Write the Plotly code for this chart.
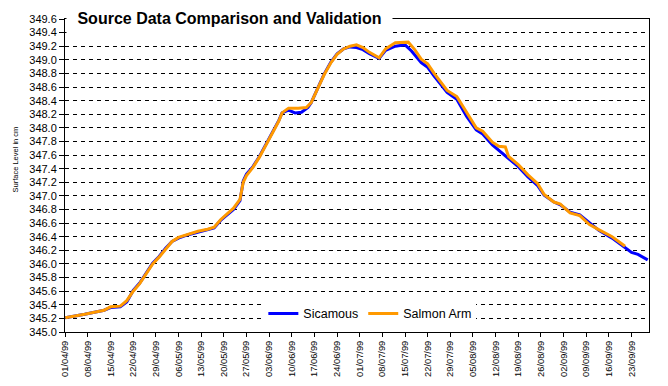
import pandas as pd
import plotly.graph_objects as go

start_date = "1999-04-01"

sicamous_days = [0, 3, 6, 9, 12, 14, 17, 19, 21, 23, 25, 27, 29, 31, 33, 35, 38, 41, 44, 46,
                 48, 50, 52, 54, 55, 56, 58, 60, 62, 64, 66, 67, 69, 71, 73, 75, 76, 78, 80, 82,
                 84, 86, 88, 90, 92, 94, 97, 99, 102, 105, 107, 110, 112, 114, 116, 118, 121, 124, 127, 129,
                 132, 134, 137, 140, 143, 146, 148, 151, 153, 156, 159, 162, 165, 169, 173, 175, 177, 180]
sicamous_vals = [345.21, 345.23, 345.26, 345.29, 345.32, 345.36, 345.37, 345.44, 345.61, 345.72,
                 345.87, 346.01, 346.11, 346.23, 346.33, 346.38, 346.43, 346.47, 346.50, 346.53,
                 346.64, 346.72, 346.80, 346.93, 347.22, 347.32, 347.43, 347.58, 347.75, 347.93,
                 348.11, 348.22, 348.26, 348.22, 348.23, 348.30, 348.37, 348.58, 348.79, 348.96,
                 349.09, 349.16, 349.19, 349.18, 349.15, 349.09, 349.02, 349.14, 349.20, 349.22,
                 349.13, 348.96, 348.89, 348.76, 348.64, 348.52, 348.42, 348.17, 347.97, 347.91,
                 347.75, 347.67, 347.56, 347.43, 347.28, 347.15, 347.01, 346.91, 346.87, 346.76,
                 346.72, 346.60, 346.49, 346.38, 346.24, 346.17, 346.14, 346.06]

salmon_days = [0, 3, 6, 9, 12, 14, 17, 19, 21, 23, 25, 27, 29, 31, 33, 35, 38, 41, 44, 46,
               48, 50, 52, 54, 55, 56, 58, 60, 62, 64, 66, 67, 69, 72, 74.5, 76, 78, 80, 82, 84,
               86, 88, 90, 92, 94, 97, 99, 102, 106, 108, 110, 112, 114, 116, 118, 121, 124, 127, 129, 132,
               134, 136, 137, 140, 143, 146, 148, 151, 153, 156, 159, 162, 165, 169, 173]
salmon_vals = [345.21, 345.23, 345.26, 345.29, 345.32, 345.37, 345.38, 345.46, 345.60, 345.71,
               345.85, 346.00, 346.10, 346.22, 346.33, 346.39, 346.44, 346.48, 346.51, 346.54,
               346.65, 346.73, 346.82, 346.95, 347.20, 347.30, 347.42, 347.57, 347.74, 347.92,
               348.10, 348.22, 348.29, 348.29, 348.30, 348.37, 348.58, 348.78, 348.95, 349.08,
               349.16, 349.20, 349.22, 349.18, 349.11, 349.03, 349.16, 349.25, 349.26, 349.15,
               349.01, 348.94, 348.80, 348.68, 348.55, 348.46, 348.22, 348.00, 347.95, 347.79,
               347.73, 347.72, 347.58, 347.46, 347.31, 347.18, 347.02, 346.91, 346.88, 346.75,
               346.71, 346.58, 346.50, 346.40, 346.26]

title_text = "Source Data Comparison and Validation"
y_title = "Surface Level in cm"

base = pd.Timestamp(start_date)
sic_x = [base + pd.Timedelta(days=d) for d in sicamous_days]
sal_x = [base + pd.Timedelta(days=d) for d in salmon_days]

font_family = "Liberation Sans, Arial, sans-serif"

fig = go.Figure()
fig.add_trace(go.Scatter(x=sic_x, y=sicamous_vals, mode="lines", name="Sicamous",
                         line=dict(color="#0000FF", width=3)))
fig.add_trace(go.Scatter(x=sal_x, y=salmon_vals, mode="lines", name="Salmon Arm",
                         line=dict(color="#FF9900", width=3)))

x_end = base + pd.Timedelta(days=180.4)

fig.update_layout(
    width=668, height=386,
    margin=dict(l=65, r=19, t=19, b=54, autoexpand=False),
    paper_bgcolor="white", plot_bgcolor="white",
    font=dict(family=font_family, color="black"),
    showlegend=True,
    legend=dict(orientation="h", x=0.522, xanchor="center", y=0.058, yanchor="middle",
                bgcolor="white", borderwidth=0, font=dict(size=12.5), itemwidth=30,
                tracegroupgap=0),
    xaxis=dict(type="date", range=[base - pd.Timedelta(hours=2), x_end], automargin=False,
               tick0=start_date, dtick=7 * 86400000, tickformat="%d/%m/%y",
               tickangle=-90, tickfont=dict(size=9.3), ticks="outside", ticklen=4,
               tickcolor="black", showgrid=False, showline=True, linecolor="black",
               linewidth=1, mirror=True, zeroline=False),
    yaxis=dict(range=[345.0, 349.6], dtick=0.2, tick0=345.0, tickformat=".1f", automargin=False,
               tickfont=dict(size=11), ticks="outside", ticklen=5, tickcolor="black",
               showgrid=True, gridcolor="black", gridwidth=1, griddash="4px,4px",
               showline=True, linecolor="black", linewidth=1, mirror=True, zeroline=False),
    annotations=[
        dict(text="&nbsp;" + title_text + "&nbsp;", xref="paper", yref="paper",
             x=0, y=1.0, xanchor="left", yanchor="middle", xshift=1, yshift=1,
             showarrow=False, bgcolor="white", borderpad=6,
             font=dict(size=16, family=font_family, color="black", weight="bold")),
        dict(text=y_title, xref="paper", yref="paper", x=-0.0839, y=0.551,
             xanchor="center", yanchor="middle", textangle=-90, showarrow=False,
             font=dict(size=7.5, family="Liberation Sans Narrow, Liberation Sans, Arial", color="black")),
    ],
)

fig.write_html("out.html", config={"displayModeBar": False},
               post_script="document.body.style.margin='0px';")
